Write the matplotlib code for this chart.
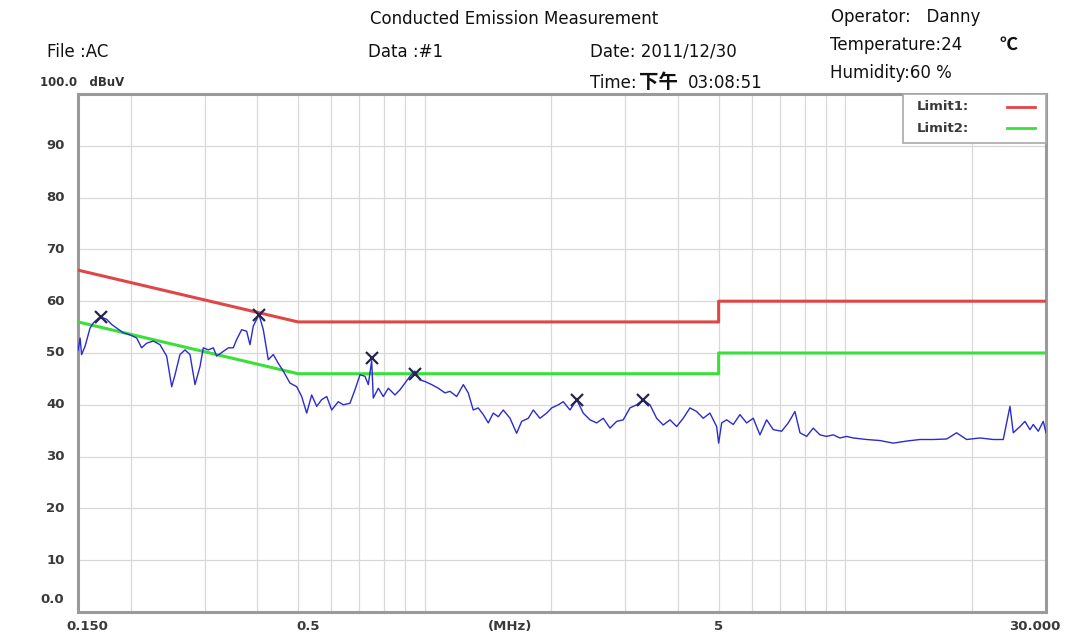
import matplotlib
matplotlib.use("Agg")
import matplotlib.pyplot as plt
from matplotlib.ticker import FixedLocator, NullFormatter
from matplotlib.patches import Rectangle

# ---------------- data ----------------
trace_freq = [0.1500, 0.1517, 0.1530, 0.1559, 0.1602, 0.1631, 0.1692, 0.1755, 0.1804, 0.1854,
              0.1922, 0.1994, 0.2068, 0.2125, 0.2185, 0.2265, 0.2350, 0.2437, 0.2505, 0.2551,
              0.2621, 0.2694, 0.2769, 0.2846, 0.2925, 0.2978, 0.3061, 0.3146, 0.3204, 0.3323,
              0.3415, 0.3509, 0.3575, 0.3674, 0.3776, 0.3845, 0.3915, 0.4039, 0.4136, 0.4250,
              0.4368, 0.4490, 0.4614, 0.4786, 0.4965, 0.5103, 0.5244, 0.5390, 0.5540, 0.5693,
              0.5852, 0.6013, 0.6235, 0.6408, 0.6647, 0.6831, 0.7021, 0.7216, 0.7348, 0.7485,
              0.7551, 0.7761, 0.7976, 0.8198, 0.8504, 0.8740, 0.8982, 0.9230, 0.9486, 0.9750,
              1.002, 1.0395, 1.0778, 1.118, 1.149, 1.192, 1.236, 1.270, 1.305, 1.341,
              1.379, 1.417, 1.456, 1.497, 1.538, 1.596, 1.655, 1.701, 1.764, 1.813,
              1.880, 1.951, 2.005, 2.079, 2.136, 2.216, 2.299, 2.383, 2.472, 2.564,
              2.659, 2.758, 2.861, 2.966, 3.077, 3.192, 3.309, 3.433, 3.561, 3.692,
              3.830, 3.973, 4.119, 4.273, 4.433, 4.596, 4.767, 4.945, 5.000, 5.083,
              5.223, 5.416, 5.618, 5.828, 6.042, 6.268, 6.502, 6.742, 7.059, 7.319,
              7.592, 7.803, 8.094, 8.391, 8.704, 9.029, 9.361, 9.711, 10.07, 10.44,
              11.24, 12.09, 13.00, 13.99, 15.05, 16.19, 17.42, 18.39, 19.43, 20.90,
              22.47, 23.74, 24.63, 25.08, 26.02, 26.74, 27.48, 27.98, 28.76, 29.55,
              30.00]
trace_dbuv = [50.5, 52.9, 49.7, 51.3, 54.8, 55.8, 57.0, 56.5, 55.5, 54.8,
              53.9, 53.5, 52.9, 51.0, 51.9, 52.3, 51.6, 49.4, 43.5, 45.8,
              49.7, 50.6, 49.7, 43.9, 47.4, 51.0, 50.6, 51.0, 49.4, 50.3,
              51.0, 51.0, 52.6, 54.5, 54.2, 51.6, 55.2, 57.4, 54.5, 48.7,
              49.7, 48.0, 46.5, 44.2, 43.5, 41.6, 38.4, 41.9, 39.7, 41.0,
              41.6, 39.0, 40.6, 40.0, 40.3, 42.9, 45.8, 45.5, 43.9, 48.5,
              41.3, 43.2, 41.6, 43.2, 41.9, 42.9, 44.2, 45.5, 46.5, 44.8,
              44.5, 43.9, 43.2, 42.3, 42.6, 41.6, 43.9, 42.3, 39.0, 39.4,
              38.1, 36.5, 38.4, 37.7, 39.0, 37.4, 34.5, 36.8, 37.4, 39.0,
              37.4, 38.4, 39.4, 40.0, 40.6, 39.0, 41.0, 38.4, 37.1, 36.5,
              37.4, 35.5, 36.8, 37.1, 39.4, 40.0, 41.0, 40.0, 37.4, 36.1,
              37.1, 35.8, 37.4, 39.4, 38.7, 37.4, 38.4, 35.8, 32.6, 36.5,
              37.1, 36.2, 38.1, 36.5, 37.4, 34.2, 37.1, 35.2, 34.9, 36.5,
              38.7, 34.6, 33.9, 35.5, 34.2, 33.9, 34.2, 33.6, 33.9, 33.6,
              33.3, 33.1, 32.6, 33.0, 33.3, 33.3, 33.4, 34.6, 33.3, 33.6,
              33.3, 33.3, 39.7, 34.6, 35.8, 36.8, 35.2, 36.2, 34.9, 36.8,
              34.6]

limit_freq = [0.15, 0.5, 5.0, 5.0, 30.0]
limit1_dbuv = [66, 56, 56, 60, 60]
limit2_dbuv = [56, 46, 46, 50, 50]

peak_freq = [0.170, 0.404, 0.748, 0.949, 2.30, 3.31]
peak_dbuv = [57.0, 57.3, 49.0, 46.0, 41.0, 41.0]

y_ticks = [10, 20, 30, 40, 50, 60, 70, 80, 90]
x_grid = [0.2, 0.3, 0.4, 0.5, 0.6, 0.7, 0.8, 0.9, 1, 2, 3, 4, 5, 6, 7, 8, 9, 10, 20]
x_label_pos = [0.158, 0.53, 1.6, 5.0, 28.2]
x_label_txt = ["0.150", "0.5", "(MHz)", "5", "30.000"]

# ---------------- figure ----------------
W, H = 1091, 639
fig = plt.figure(figsize=(W / 100, H / 100), dpi=100)
fig.patch.set_facecolor("white")

def fx(px):
    return px / W

def fy(py):
    return 1 - py / H

ax = fig.add_axes([fx(78), fy(612), (1046 - 78) / W, (612 - 94) / H])
ax.set_xscale("log")
ax.set_xlim(0.15, 30)
ax.set_ylim(0, 100)

ax.xaxis.set_major_locator(FixedLocator(x_grid))
ax.xaxis.set_minor_locator(FixedLocator([]))
ax.xaxis.set_major_formatter(NullFormatter())
ax.xaxis.set_minor_formatter(NullFormatter())
ax.set_yticks(y_ticks)
ax.set_yticklabels([])
ax.tick_params(length=0)
ax.grid(True, color="#d8d8d8", lw=0.9)
ax.set_axisbelow(True)
for s in ax.spines.values():
    s.set_color("#9a9a9a")
    s.set_linewidth(2.2)

ax.plot(limit_freq, limit1_dbuv, color="#e04646", lw=2.2, zorder=3)
ax.plot(limit_freq, limit2_dbuv, color="#3ae03a", lw=2.2, zorder=3)
ax.plot(trace_freq, trace_dbuv, color="#2b2bd0", lw=1.0, zorder=4)
ax.plot(peak_freq, peak_dbuv, linestyle="none", marker="x", markersize=8.5,
        markeredgewidth=1.6, color="#252550", zorder=5)

lab_style = dict(fontsize=9.5, fontweight="bold", color="#3a3a3a")

# y labels
ytr = ax.get_yaxis_transform()
for v in y_ticks:
    ax.text(-0.014, v, str(v), transform=ytr, ha="right", va="center", **lab_style)
ax.text(-0.014, 2.5, "0.0", transform=ytr, ha="right", va="center", **lab_style)

# x labels
xtr = ax.get_xaxis_transform()
for f, lab in zip(x_label_pos, x_label_txt):
    ax.text(f, -0.028, lab, transform=xtr, ha="center", va="center",
            clip_on=False, **lab_style)

# legend box
fig.patches.append(Rectangle((fx(903), fy(143)), (1046 - 903) / W, (143 - 94) / H,
                             transform=fig.transFigure, facecolor="white",
                             edgecolor="#a8a8a8", lw=1.2, zorder=6))
fig.text(fx(917), fy(107), "Limit1:", va="center", ha="left", zorder=7, **lab_style)
fig.text(fx(917), fy(128), "Limit2:", va="center", ha="left", zorder=7, **lab_style)
fig.lines.append(plt.Line2D([fx(1007), fx(1035)], [fy(107), fy(107)], transform=fig.transFigure,
                            color="#e04646", lw=2, zorder=7))
fig.lines.append(plt.Line2D([fx(1007), fx(1035)], [fy(128), fy(128)], transform=fig.transFigure,
                            color="#3ae03a", lw=2, zorder=7))

# header texts
fam = ["DejaVu Sans", "Noto Sans CJK SC"]
hdr = dict(fontsize=12, color="#111111", va="center", ha="left", family=fam)
fig.text(fx(370), fy(19), "Conducted Emission Measurement", **hdr)
fig.text(fx(831), fy(17), "Operator:   Danny", **hdr)
fig.text(fx(47), fy(52), "File :AC", **hdr)
fig.text(fx(368), fy(52), "Data :#1", **hdr)
fig.text(fx(590), fy(52), "Date: 2011/12/30", **hdr)
fig.text(fx(830), fy(45), "Temperature:24", **hdr)
fig.text(fx(1000), fy(44), "℃", fontsize=13, fontweight="bold", color="#111111",
         va="center", ha="left", family=["Noto Sans CJK SC", "DejaVu Sans"])
fig.text(fx(590), fy(83), "Time:", **hdr)
fig.text(fx(639), fy(82), "下午", fontsize=14, fontweight="bold", color="#111111",
         va="center", ha="left", family=["Noto Sans CJK SC", "DejaVu Sans"])
fig.text(fx(688), fy(83), "03:08:51", **hdr)
fig.text(fx(830), fy(73), "Humidity:60 %", **hdr)
fig.text(fx(40), fy(82), "100.0   dBuV", fontsize=8.5, fontweight="bold", color="#333333",
         va="center", ha="left")

fig.savefig("out.png", dpi=100, facecolor="white")
